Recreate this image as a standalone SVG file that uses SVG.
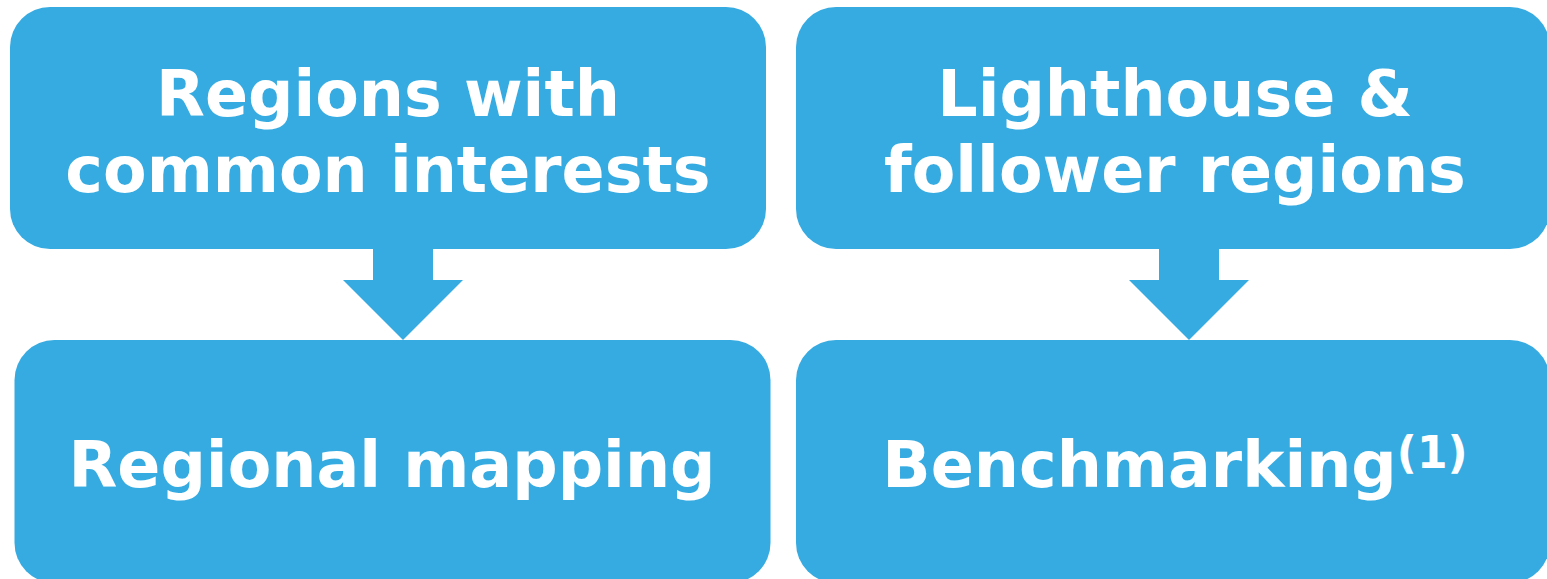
<svg xmlns="http://www.w3.org/2000/svg" width="1547" height="579" viewBox="0 0 1547 579">
<style>
.box{fill:#35ABE2}
.t{font-family:"DejaVu Sans",Verdana,sans-serif;font-weight:bold;font-size:63.5px;fill:#FFFFFF;text-anchor:middle}
.sup{font-size:44px}
</style>
<rect width="1547" height="579" fill="#FFFFFF"/>
<g id="connectors">
<polygon class="box" points="373,249 433,249 433,280 463,280 403,340 343,280 373,280"/>
<polygon class="box" points="1159,249 1219,249 1219,280 1249,280 1189,340 1129,280 1159,280"/>
</g>
<g id="node1">
<rect class="box" x="10" y="7" width="756" height="242" rx="40" ry="40"/>
<text class="t" x="388" y="116">Regions with</text>
<text class="t" x="388" y="192">common interests</text>
</g>
<g id="node2">
<rect class="box" x="796" y="7" width="754" height="242" rx="40" ry="40"/>
<text class="t" x="1175" y="116">Lighthouse &amp;</text>
<text class="t" x="1175" y="192">follower regions</text>
</g>
<g id="node3">
<rect class="box" x="14.5" y="340" width="756" height="243" rx="40" ry="40"/>
<text class="t" x="392" y="487">Regional mapping</text>
</g>
<g id="node4">
<rect class="box" x="796" y="340" width="754" height="243" rx="40" ry="40"/>
<text class="t" x="1175" y="487">Benchmarking<tspan class="sup" dy="-19">(1)</tspan></text>
</g>
</svg>
